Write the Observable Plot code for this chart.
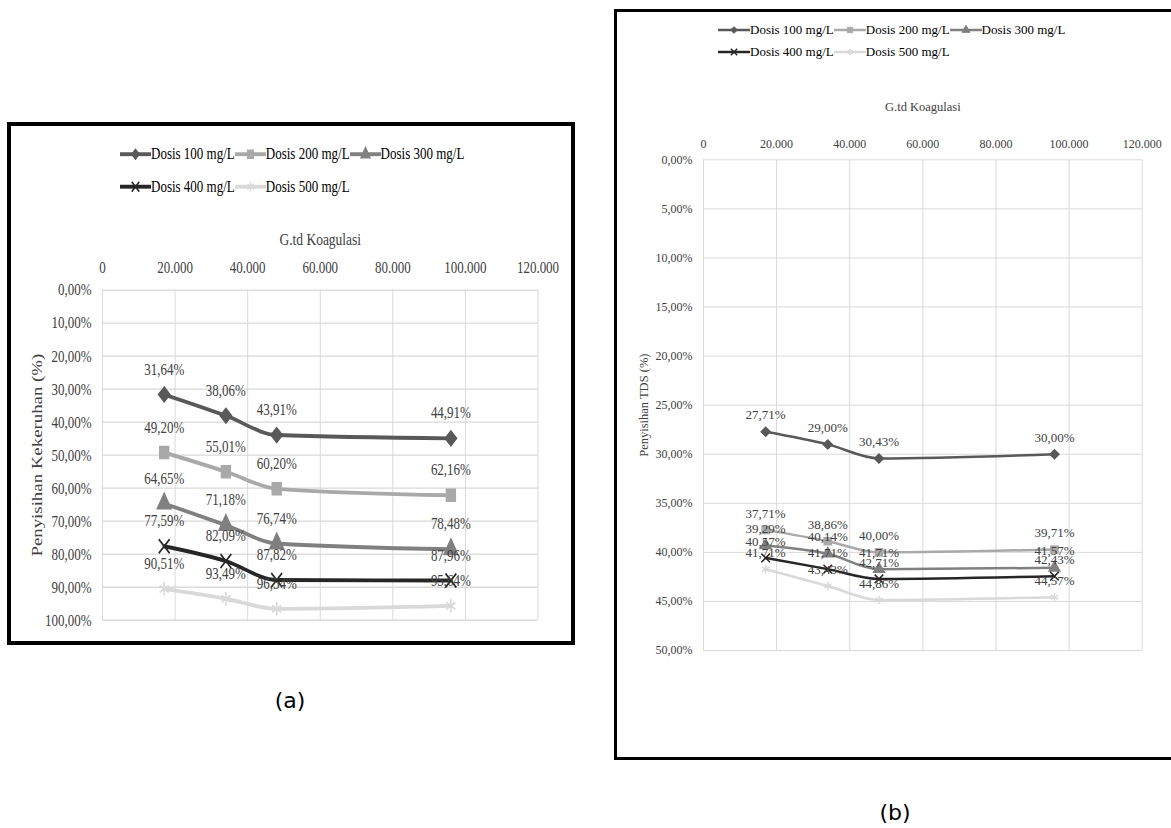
<!DOCTYPE html>
<html><head><meta charset="utf-8">
<script src="https://cdn.jsdelivr.net/npm/d3@7"></script>
<script src="https://cdn.jsdelivr.net/npm/@observablehq/plot@0.6"></script>
<style>
html,body{margin:0;padding:0;background:#fff;overflow:hidden;}
#page{position:relative;width:1171px;height:828px;overflow:hidden;font-family:"Liberation Serif",serif;background:#fff;}
.abs{position:absolute;}
.legend-row{position:absolute;display:flex;align-items:center;white-space:nowrap;color:#000;height:16px;}
.legend-item{display:flex;align-items:center;}
.caption{position:absolute;font-family:"DejaVu Sans",sans-serif;font-size:22px;color:#000;transform:translate(-50%,-50%);}
</style></head><body><div id="page">
<div class="abs" style="left:7px;top:122px;width:568px;height:523px;border:4px solid #000;box-sizing:border-box;"></div>
<div class="abs" style="left:614px;top:9px;width:620px;height:751px;border:3px solid #000;box-sizing:border-box;"></div>
<div class="abs" id="panelA" style="left:0;top:123px;width:580px;height:400px;transform-origin:0 0;transform:scaleY(1.3);"></div>
<div class="abs" id="panelB" style="left:0;top:0;width:1171px;height:828px;"></div>
<div class="caption" style="left:290px;top:700px;">(a)</div>
<div class="caption" style="left:895px;top:812px;">(b)</div>
</div>
<script>
// ---- data ----
const seriesNames = ["Dosis 100 mg/L", "Dosis 200 mg/L", "Dosis 300 mg/L", "Dosis 400 mg/L", "Dosis 500 mg/L"];
const seriesColors = ["#595959", "#a9a9a9", "#808080", "#262626", "#d9d9d9"];
const seriesSymbols = ["diamond2", "square", "triangle", "times", "asterisk"];
const gtdKoagulasi = [17000, 34000, 48000, 96000];
const xTicks = [0, 20000, 40000, 60000, 80000, 100000, 120000];

// (a) Penyisihan Kekeruhan (%)
const kekeruhan100 = [31.64, 38.06, 43.91, 44.91];
const kekeruhan200 = [49.20, 55.01, 60.20, 62.16];
const kekeruhan300 = [64.65, 71.18, 76.74, 78.48];
const kekeruhan400 = [77.59, 82.09, 87.82, 87.96];
const kekeruhan500 = [90.51, 93.49, 96.54, 95.64];
const yTicksA = [0, 10, 20, 30, 40, 50, 60, 70, 80, 90, 100];

// (b) Penyisihan TDS (%)
const tds100 = [27.71, 29.00, 30.43, 30.00];
const tds200 = [37.71, 38.86, 40.00, 39.71];
const tds300 = [39.29, 40.14, 41.71, 41.57];
const tds400 = [40.57, 41.71, 42.71, 42.43];
const tds500 = [41.71, 43.43, 44.86, 44.57];
const yTicksB = [0, 5, 10, 15, 20, 25, 30, 35, 40, 45, 50];

// ---- helpers ----
const fmtPct = v => v.toFixed(2).replace(".", ",") + "%";
const fmtX = v => v === 0 ? "0" : d3.format(",")(v).replace(/,/g, ".");
const gridColor = "#d9d9d9";
const toRows = (arrays) => seriesNames.flatMap((s, i) => gtdKoagulasi.map((x, j) => ({series: s, x, y: arrays[i][j]})));
const dataA = toRows([kekeruhan100, kekeruhan200, kekeruhan300, kekeruhan400, kekeruhan500]);
const dataB = toRows([tds100, tds200, tds300, tds400, tds500]);

const symbolMap = {diamond2: d3.symbolDiamond2, square: d3.symbolSquare, triangle: d3.symbolTriangle, times: d3.symbolTimes, asterisk: d3.symbolAsterisk};

function swatch(color, symbol, r, lw, w) {
  const svg = d3.create("svg").attr("width", w).attr("height", 16).style("overflow", "visible");
  svg.append("line").attr("x1", 0).attr("x2", w).attr("y1", 8).attr("y2", 8)
    .attr("stroke", color).attr("stroke-width", lw);
  const open = symbol === "times" || symbol === "asterisk";
  svg.append("path").attr("transform", `translate(${w / 2},8)`)
    .attr("d", d3.symbol(symbolMap[symbol], Math.PI * r * r)())
    .attr("fill", open ? "none" : color).attr("stroke", color).attr("stroke-width", open ? 1.5 : 1);
  return svg.node();
}

function legendRow(parent, names, left, centerY, fontSize, r, lw, w) {
  const row = document.createElement("div");
  row.className = "legend-row";
  row.style.left = left + "px";
  row.style.top = (centerY - 8) + "px";
  row.style.fontSize = fontSize + "px";
  names.forEach(n => {
    const i = seriesNames.indexOf(n);
    const item = document.createElement("div");
    item.className = "legend-item";
    item.appendChild(swatch(seriesColors[i], seriesSymbols[i], r, lw, w));
    const t = document.createElement("span");
    t.textContent = n;
    item.appendChild(t);
    row.appendChild(item);
  });
  parent.appendChild(row);
}

function makeChart(cfg) {
  return Plot.plot({
    width: cfg.width, height: cfg.height,
    marginLeft: cfg.ml, marginRight: cfg.mr, marginTop: cfg.mt, marginBottom: cfg.mb,
    style: {fontFamily: "Liberation Serif", fontSize: cfg.tickFont + "px", color: "#404040", background: "transparent", overflow: "visible"},
    x: {domain: [0, 120000]},
    y: {domain: cfg.yDomain, reverse: true},
    color: {domain: seriesNames, range: seriesColors},
    symbol: {domain: seriesNames, range: seriesSymbols},
    marks: [
      Plot.gridX({ticks: xTicks, stroke: gridColor, strokeOpacity: 1}),
      Plot.gridY({ticks: cfg.yTicks, stroke: gridColor, strokeOpacity: 1}),
      Plot.axisX({ticks: xTicks, anchor: "top", tickSize: 0, tickPadding: cfg.xPad, tickFormat: fmtX, label: null, fontSize: cfg.tickFont}),
      Plot.axisY({ticks: cfg.yTicks, anchor: "left", tickSize: 0, tickPadding: 11, tickFormat: fmtPct, label: null, fontSize: cfg.tickFont}),
      Plot.line(cfg.data, {x: "x", y: "y", z: "series", stroke: "series", strokeWidth: cfg.lw, curve: "monotone-x"}),
      Plot.dot(cfg.data, {x: "x", y: "y", symbol: "series", stroke: "series", fill: "series", r: cfg.r, strokeWidth: 1.5}),
      Plot.text(cfg.data, {x: "x", y: "y", text: d => fmtPct(d.y), dy: cfg.labelDy, fontSize: cfg.labelFont, fill: "#404040"}),
      Plot.text(["G.td Koagulasi"], {frameAnchor: "top", textAnchor: "middle", dy: cfg.xTitleDy, fontSize: cfg.titleFont, fill: "#404040"}),
      Plot.text([cfg.yTitle], {frameAnchor: "left", textAnchor: "middle", rotate: -90, dx: cfg.yTitleDx, fontSize: cfg.yTitleFont, fill: "#404040"})
    ]
  });
}

// ---- panel (a) (content stretched vertically like the source image) ----
const panelA = document.getElementById("panelA");
legendRow(panelA, seriesNames.slice(0, 3), 120, 23.5, 13, 3.5, 3, 31);
legendRow(panelA, seriesNames.slice(3), 120, 49, 13, 3.5, 3, 31);
const chartA = makeChart({
  width: 558, height: 312, ml: 91, mr: 31.5, mt: 48, mb: 10,
  yDomain: [0, 100], yTicks: yTicksA, data: dataA,
  tickFont: 13, labelFont: 13, titleFont: 13.5, yTitleFont: 14.5, xPad: 13,
  lw: 3, r: 5, labelDy: -19.5, xTitleDy: -44, yTitleDx: -65.6,
  yTitle: "Penyisihan Kekeruhan (%)"
});
chartA.style.position = "absolute";
chartA.style.left = "11px";
chartA.style.top = "80px";
panelA.appendChild(chartA);

// ---- panel (b) ----
const panelB = document.getElementById("panelB");
legendRow(panelB, seriesNames.slice(0, 3), 718, 30, 13, 3, 2.5, 32);
legendRow(panelB, seriesNames.slice(3), 718, 52, 13, 3, 2.5, 32);
const chartB = makeChart({
  width: 553, height: 580, ml: 85, mr: 29.3, mt: 69.3, mb: 20,
  yDomain: [0, 50], yTicks: yTicksB, data: dataB,
  tickFont: 12, labelFont: 13, titleFont: 12.5, yTitleFont: 12.5, xPad: 12,
  lw: 2.5, r: 4, labelDy: -16.5, xTitleDy: -58, yTitleDx: -60,
  yTitle: "Penyisihan TDS (%)"
});
chartB.style.position = "absolute";
chartB.style.left = "618px";
chartB.style.top = "90px";
panelB.appendChild(chartB);
</script>
</body></html>
